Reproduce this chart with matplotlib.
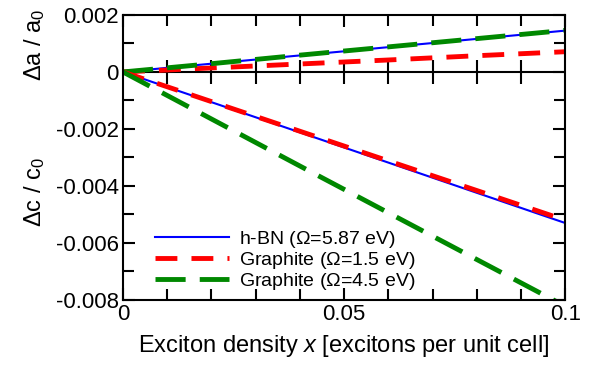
import matplotlib
matplotlib.use("Agg")
import matplotlib.pyplot as plt
from matplotlib.ticker import MultipleLocator, FixedLocator, FuncFormatter
import numpy as np

plt.rcParams['font.family'] = ['Liberation Sans', 'DejaVu Sans']
plt.rcParams['mathtext.fontset'] = 'custom'
plt.rcParams['mathtext.rm'] = 'Liberation Sans'
plt.rcParams['mathtext.it'] = 'Liberation Sans:italic'
plt.rcParams['axes.unicode_minus'] = False

# exciton density
x = [0.0, 0.02, 0.04, 0.06, 0.08, 0.1]

# in-plane strain da/a0
hbn_a = [0.0, 0.00029, 0.00058, 0.00087, 0.00116, 0.00145]
gr15_a = [0.0, 0.00014, 0.00028, 0.00042, 0.00057, 0.00071]
gr45_a = [0.0, 0.00029, 0.00059, 0.00088, 0.00117, 0.00146]

# out-of-plane strain dc/c0
hbn_c = [0.0, -0.00106, -0.00212, -0.00318, -0.00424, -0.0053]
gr15_c = [0.0, -0.00104, -0.00208, -0.00312, -0.00416, -0.0052]
gr45_c = [0.0, -0.00165, -0.0033, -0.00494, -0.00658, -0.00822]

labels = ['h-BN ($\\Omega$=5.87 eV)', 'Graphite ($\\Omega$=1.5 eV)', 'Graphite ($\\Omega$=4.5 eV)']

fig = plt.figure(figsize=(6.0, 3.74), dpi=100)
ax = fig.add_axes([0.205, 0.198, 0.737, 0.762])

red_dash = (4.5, 2.9)
green_dash = (6.2, 2.9)
l1, = ax.plot(x, hbn_a, color='#0000ff', lw=1.5)
l2, = ax.plot(x, gr15_a, color='#ff0000', lw=3.5, dashes=red_dash)
l3, = ax.plot(x, gr45_a, color='#008800', lw=3.5, dashes=green_dash)
ax.plot(x, hbn_c, color='#0000ff', lw=1.5)
ax.plot(x, gr15_c, color='#ff0000', lw=3.5, dashes=red_dash)
ax.plot(x, gr45_c, color='#008800', lw=3.5, dashes=green_dash)

# zero line separating the two panels, with ticks crossing it
ax.axhline(0, color='black', lw=1.5, zorder=1)
for xt in np.arange(0.01, 0.1, 0.01):
    ax.plot([xt], [0], marker='|', ms=17, mew=1.5, color='black', zorder=1)

ax.set_xlim(0, 0.1)
ax.set_ylim(-0.008, 0.002)
ax.xaxis.set_major_locator(FixedLocator([0, 0.05, 0.1]))
ax.xaxis.set_minor_locator(MultipleLocator(0.01))
ax.xaxis.set_major_formatter(FuncFormatter(lambda v, p: {0: '0', 1: '0.05', 2: '0.1'}[p]))
ax.yaxis.set_major_locator(MultipleLocator(0.002))
ax.yaxis.set_minor_locator(MultipleLocator(0.001))
ax.yaxis.set_major_formatter(FuncFormatter(lambda v, p: '0' if abs(v) < 1e-9 else '%.3f' % v))
ax.tick_params(which='both', direction='in', top=True, right=True, labelsize=16, width=1.5)
ax.tick_params(which='major', length=8.5, pad=3)
ax.tick_params(which='minor', length=8)
for s in ax.spines.values():
    s.set_linewidth(1.5)

ax.set_xlabel('Exciton density $x$ [excitons per unit cell]', fontsize=17, labelpad=6)
fig.text(0.058, 0.88, '$\\Delta\\mathrm{a}$ / $\\mathrm{a}_0$', rotation=90, fontsize=17, ha='center', va='center')
fig.text(0.058, 0.487, '$\\Delta\\mathrm{c}$ / $\\mathrm{c}_0$', rotation=90, fontsize=17, ha='center', va='center')

ax.legend([l1, l2, l3], labels, loc='lower left', bbox_to_anchor=(0.055, 0.0), frameon=False,
          fontsize=14, handlelength=3.8, handletextpad=0.5, labelspacing=0.0, borderaxespad=0,
          borderpad=0.4)

fig.savefig('out.png', dpi=100)
